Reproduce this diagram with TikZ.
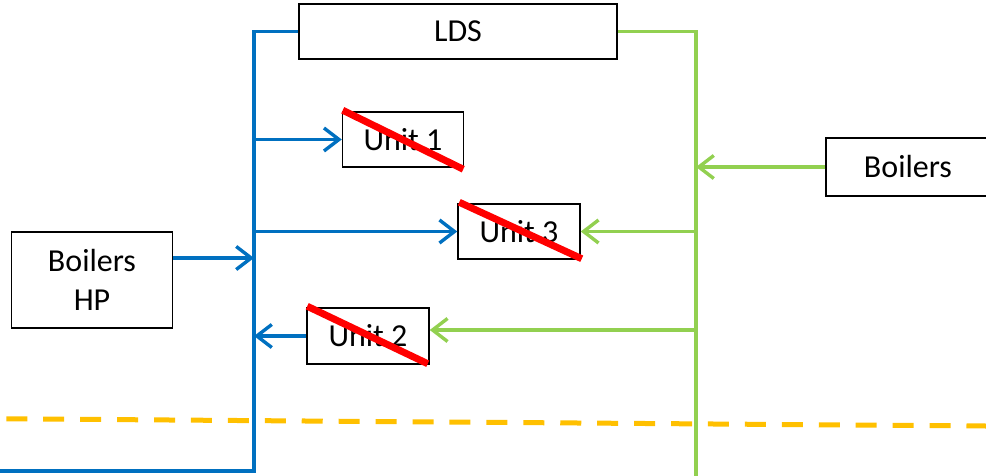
\documentclass[tikz,border=0pt]{standalone}
\usepackage{fontspec}
\setmainfont{Carlito}
\usetikzlibrary{arrows.meta}
\definecolor{pipeblue}{HTML}{0070C0}
\definecolor{pipegreen}{HTML}{92D050}
\definecolor{cutred}{HTML}{FF0000}
\definecolor{limitorange}{HTML}{FFC000}
\tikzset{
  plantbox/.style={draw=black, line width=1.5pt, fill=white, inner sep=0pt,
    align=center, font=\fontsize{32}{39}\selectfont},
  bluepipe/.style={draw=pipeblue, line width=3.4pt},
  greenpipe/.style={draw=pipegreen, line width=3.4pt},
  feed/.style={-{Straight Barb[length=15pt,width=23pt,line width=3.4pt]}},
  cutmark/.style={draw=cutred, line width=7pt},
  limitdash/.style={draw=limitorange, line width=5pt}
}
\begin{document}
\begin{tikzpicture}[x=1pt,y=-1pt]
\useasboundingbox (0,0) rectangle (986,476);
\clip (0,0) rectangle (986,476);

% boundary, drawn dash by dash on a slightly sloping line
\foreach \k in {0,...,26}{
  \pgfmathsetmacro{\xa}{6.3+36.93*\k}
  \pgfmathsetmacro{\xb}{\xa+21}
  \pgfmathsetmacro{\ya}{418.8+(\xa-6.3)*0.00735}
  \pgfmathsetmacro{\yb}{418.8+(\xb-6.3)*0.00735}
  \draw[limitdash] (\xa,\ya) -- (\xb,\yb);
}

% units and boiler houses
\node[plantbox, minimum width=318pt, minimum height=55pt] (lds) at (458,31.5) {LDS};
\node[plantbox, minimum width=121pt, minimum height=55pt] (u1) at (403,139.5) {Unit 1};
\node[plantbox, minimum width=122pt, minimum height=55pt] (u3) at (519,231.5) {Unit 3};
\node[plantbox, minimum width=122pt, minimum height=56pt] (u2) at (368,336) {Unit 2};
\node[plantbox, minimum width=161pt, minimum height=96pt] (bhp) at (92,280) {Boilers\\HP};
\node[plantbox, minimum width=164pt, minimum height=58pt, text width=160pt] (boil) at (908,167) {Boilers};

% header routing points
\coordinate (btop) at (254,31.5);
\coordinate (bbot) at (254,471);
\coordinate (bend) at (0,471);
\coordinate (gtop) at (696,31.5);
\coordinate (gbot) at (696,476);
\coordinate (g2) at (696,330);

% blue (HP) header
\draw[bluepipe] (lds.west) -- (btop) -- (bbot) -- (bend);
\draw[bluepipe, feed] (btop |- u1.west) -- (u1.west);
\draw[bluepipe, feed] (btop |- u3.west) -- (u3.west);
\draw[bluepipe, feed] (bhp.east |- 0,258) -- (btop |- 0,258);
\draw[bluepipe, feed] (u2.west) -- (btop |- u2.west);

% green header
\draw[greenpipe] (lds.east) -- (gtop) -- (gbot);
\draw[greenpipe, feed] (boil.west) -- (gtop |- boil.west);
\draw[greenpipe, feed] (gtop |- u3.east) -- (u3.east);
\draw[greenpipe, feed] (g2) -- (u2.east |- g2);

% out-of-service units
\draw[cutmark] ([xshift=1pt,yshift=1pt]u1.north west) -- ([xshift=-1pt,yshift=-1.5pt]u1.south east);
\draw[cutmark] ([xshift=2pt,yshift=1pt]u3.north west) -- ([xshift=1pt,yshift=1pt]u3.south east);
\draw[cutmark] ([xshift=1pt,yshift=1pt]u2.north west) -- ([xshift=-2pt,yshift=1pt]u2.south east);
\end{tikzpicture}
\end{document}
